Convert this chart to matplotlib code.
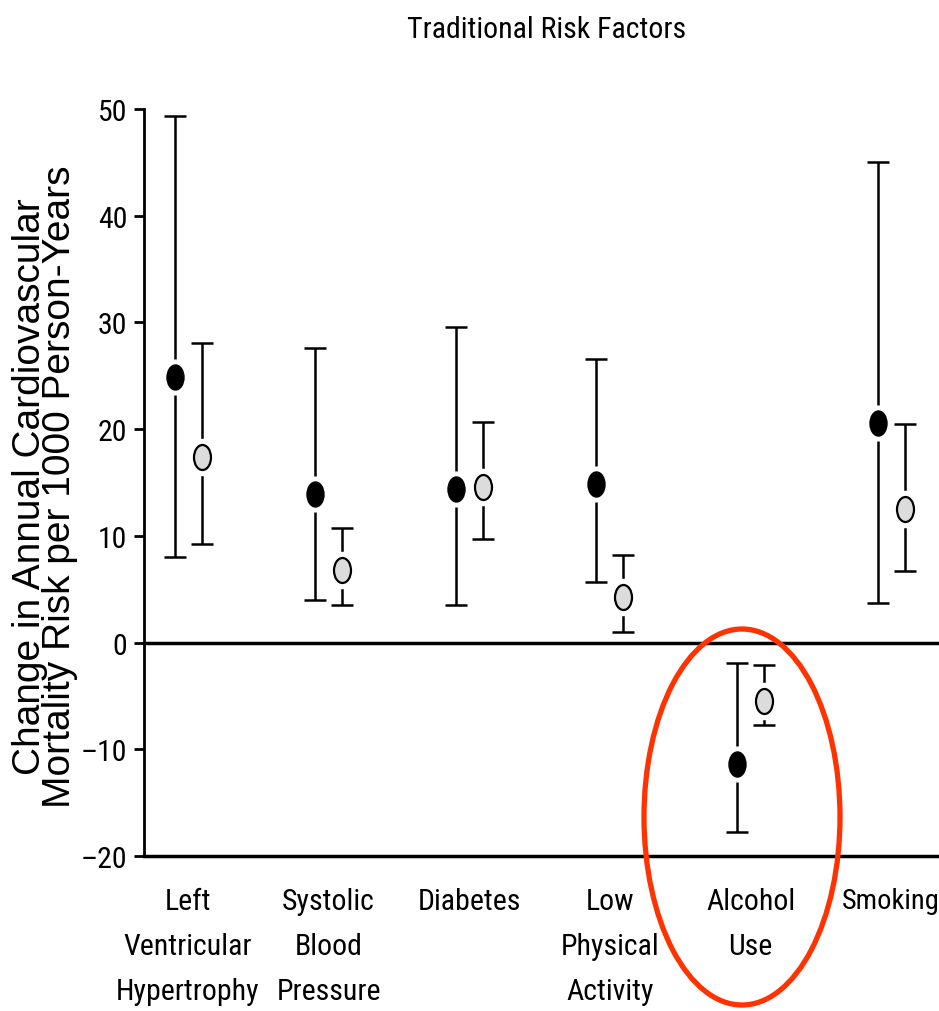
import numpy as np
import matplotlib
matplotlib.use('Agg')
import matplotlib.pyplot as plt
from matplotlib import font_manager as fm
from matplotlib.path import Path
from matplotlib.patches import Ellipse
from matplotlib.transforms import Affine2D

# pick a narrow sans if one is around, else Liberation Sans
narrow = None
for fam in ['Liberation Sans Narrow', 'Roboto Condensed', 'Open Sans Condensed', 'Noto Sans Condensed']:
    try:
        fm.findfont(fm.FontProperties(family=fam), fallback_to_default=False)
        narrow = fam
        break
    except ValueError:
        pass
stretch = 'normal'
if narrow is None:
    for fam in ['Roboto', 'Noto Sans', 'Open Sans', 'DejaVu Sans']:
        f = fm.findfont(fm.FontProperties(family=fam, stretch='condensed'), fallback_to_default=False)
        if 'ondensed' in f or 'arrow' in f:
            narrow = fam
            stretch = 'condensed'
            break
if narrow is None:
    narrow = 'Liberation Sans'
plt.rcParams['font.family'] = [narrow, 'DejaVu Sans']
plt.rcParams['font.stretch'] = stretch

# data
categories = ['Left\nVentricular\nHypertrophy', 'Systolic\nBlood\nPressure', 'Diabetes',
              'Low\nPhysical\nActivity', 'Alcohol\nUse', 'Smoking']
black_mid = [24.9, 13.9, 14.4, 14.9, -11.4, 20.6]
black_hi = [49.3, 27.6, 29.6, 26.6, -1.9, 45.0]
black_lo = [8.0, 4.0, 3.5, 5.7, -17.8, 3.7]
gray_mid = [17.4, 6.8, 14.6, 4.3, -5.5, 12.5]
gray_hi = [28.1, 10.7, 20.7, 8.2, -2.1, 20.5]
gray_lo = [9.2, 3.5, 9.7, 1.0, -7.7, 6.7]
yticks = [-20, -10, 0, 10, 20, 30, 40, 50]

x = np.arange(len(categories))
xb = x - 0.096
xg = x + 0.096

# elliptical marker (picture is squeezed sideways)
ell = Path.unit_circle().transformed(Affine2D().scale(0.68, 1.0))

fig = plt.figure(figsize=(9.39, 10.12), dpi=100)
ax = fig.add_axes([0.1534, 0.1532, 0.8466, 0.7381])

ax.axhline(0, color='black', lw=2.5, zorder=1)

for xs, mid, lo, hi in [(xb, black_mid, black_lo, black_hi), (xg, gray_mid, gray_lo, gray_hi)]:
    mid = np.array(mid)
    yerr = [mid - np.array(lo), np.array(hi) - mid]
    ax.errorbar(xs, mid, yerr=yerr, fmt='none', ecolor='black', elinewidth=1.8,
                capsize=8, capthick=1.8, zorder=2)

# white halo so the whisker stops short of the marker
ax.plot(xb, black_mid, ls='none', marker=ell, ms=25, mfc='white', mec='white', zorder=3)
ax.plot(xg, gray_mid, ls='none', marker=ell, ms=26, mfc='white', mec='white', zorder=3)
ax.plot(xb, black_mid, ls='none', marker=ell, ms=18, mfc='black', mec='black', zorder=4)
ax.plot(xg, gray_mid, ls='none', marker=ell, ms=18, mfc='#dcdcdc', mec='black', mew=1.6, zorder=4)

fs = 21.5

ax.set_xlim(-0.313, 5.34)
ax.set_ylim(-20, 50)
ax.set_yticks(yticks)
ax.set_yticklabels([str(t) if t >= 0 else '\u2013' + str(-t) for t in yticks], fontsize=fs)
ax.set_xticks(x)
ax.set_xticklabels(categories, fontsize=fs, linespacing=1.78)
ax.get_xticklabels()[-1].set_fontsize(20.5)  # keep Smoking inside the frame
ax.tick_params(axis='x', length=0, pad=22)
ax.tick_params(axis='y', length=7, width=2, pad=5, direction='out')

ax.spines['top'].set_visible(False)
ax.spines['right'].set_visible(False)
ax.spines['left'].set_linewidth(2)
ax.spines['bottom'].set_linewidth(2.5)

# y label in plain Helvetica-like face, placed by hand
fig.text(45 / 939, 1 - 487 / 1012,
         'Change in Annual Cardiovascular\nMortality Risk per 1000 Person-Years',
         family=['Liberation Sans', 'DejaVu Sans'], stretch='normal', fontsize=28,
         rotation=90, ha='center', va='center', multialignment='center', linespacing=0.8)

fig.text(547 / 939, 1 - 30 / 1012, 'Traditional Risk Factors', fontsize=fs,
         ha='center', va='center')

# red highlight around Alcohol Use
fig.patches.append(Ellipse((742 / 939, 1 - 818 / 1012), 196 / 939, 376 / 1012,
                           transform=fig.transFigure, fill=False, edgecolor='#ff3300', lw=3.8))

fig.savefig('out.png', dpi=100)
